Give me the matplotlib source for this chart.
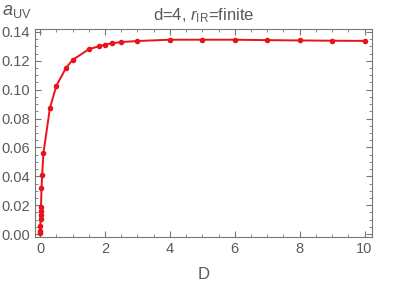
import matplotlib
matplotlib.use("Agg")
import matplotlib.pyplot as plt
from matplotlib.ticker import MultipleLocator

D = [0.0, 0.002, 0.005, 0.01, 0.015, 0.02, 0.025, 0.04, 0.06, 0.1, 0.3, 0.5, 0.8, 1.0,
     1.5, 1.8, 2.0, 2.2, 2.5, 3.0, 4.0, 5.0, 6.0, 7.0, 8.0, 9.0, 10.0]
aUV = [0.0005, 0.002, 0.0058, 0.0104, 0.013, 0.0157, 0.0185, 0.0317, 0.0407, 0.056,
       0.0873, 0.1028, 0.1152, 0.1206, 0.128, 0.130, 0.1312, 0.1321, 0.133, 0.1337,
       0.1346, 0.1346, 0.1346, 0.1343, 0.1341, 0.1339, 0.1338]

plt.rcParams["font.family"] = ["Liberation Sans", "DejaVu Sans"]
plt.rcParams["mathtext.fontset"] = "custom"
plt.rcParams["mathtext.rm"] = "Liberation Sans"
plt.rcParams["mathtext.it"] = "Liberation Sans:italic"

gray = "#5a5a5a"
fig = plt.figure(figsize=(4.07, 2.86), dpi=100)
ax = fig.add_axes([0.086, 0.171, 0.828, 0.728])
ax.plot(D, aUV, color="#e8131b", lw=1.4, marker="o", ms=3.0)
ax.set_xlim(-0.16, 10.23)
ax.set_ylim(-0.0021, 0.1421)
ax.xaxis.set_major_locator(MultipleLocator(2))
ax.xaxis.set_minor_locator(MultipleLocator(0.5))
ax.yaxis.set_major_locator(MultipleLocator(0.02))
ax.yaxis.set_minor_locator(MultipleLocator(0.005))
ax.yaxis.set_major_formatter(matplotlib.ticker.FormatStrFormatter("%.2f"))
ax.tick_params(which="both", direction="in", top=True, right=True, colors="#777777",
               labelcolor=gray, labelsize=10.5)
ax.tick_params(which="major", length=4)
ax.tick_params(which="minor", length=2)
for s in ax.spines.values():
    s.set_color("#777777")
ax.set_title(r"d=4, $r_{\mathrm{IR}}$=finite", color=gray, fontsize=12, pad=6)
ax.set_xlabel("D", color=gray, fontsize=12, labelpad=8)
fig.text(0.005, 0.99, r"$a_{\mathrm{UV}}$", color=gray, fontsize=13, va="top", ha="left")
fig.savefig("out.png", dpi=100)
